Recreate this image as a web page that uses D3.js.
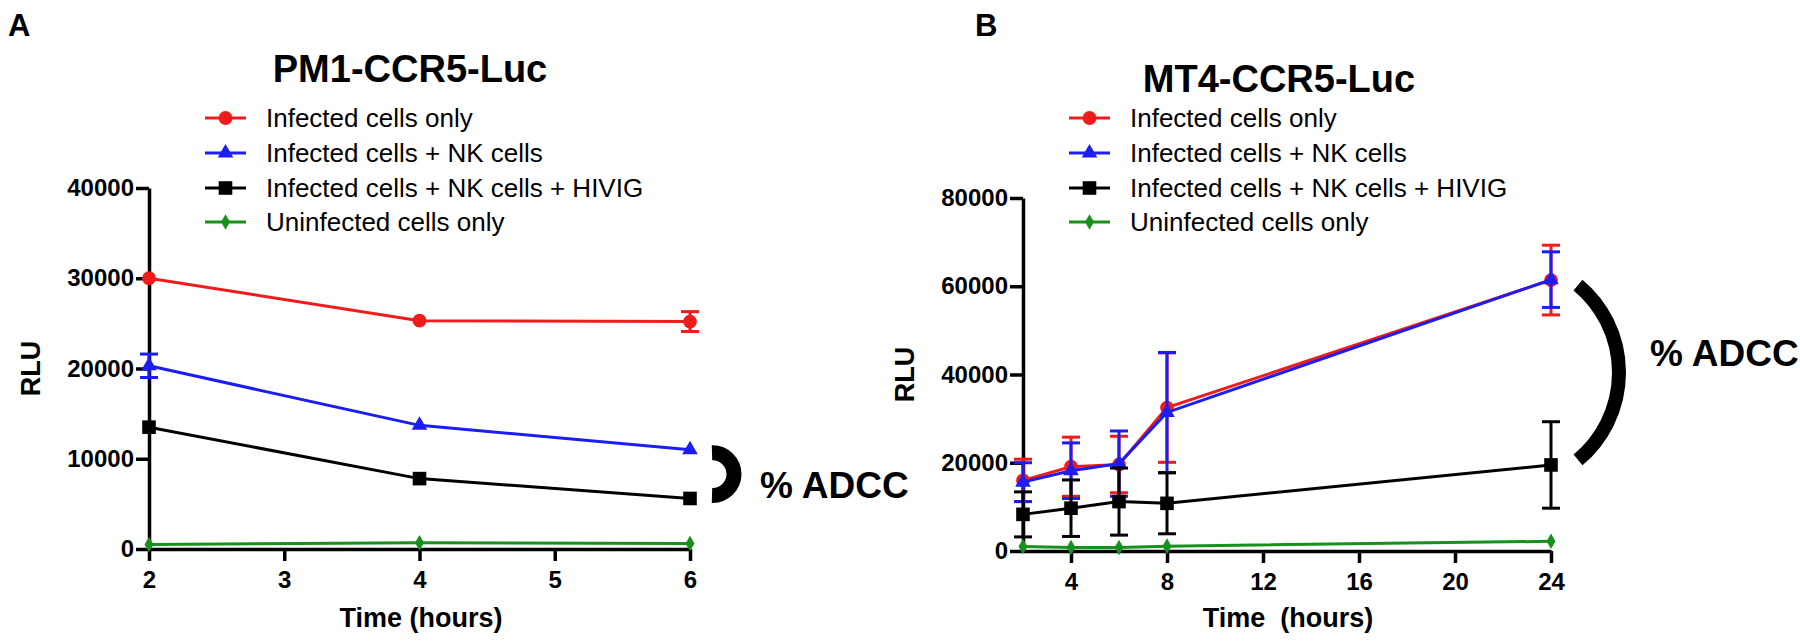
<!DOCTYPE html>
<html>
<head>
<meta charset="utf-8">
<script src="https://cdn.jsdelivr.net/npm/d3@7"></script>
<style>
  body { margin: 0; background: #fff; }
  svg { display: block; }
  text { font-family: "Liberation Sans", Arial, Helvetica, sans-serif; }
</style>
</head>
<body>
<div id="chart"></div>
<script>
// ******* DATA *******
const seriesNames = ["Infected cells only", "Infected cells + NK cells",
    "Infected cells + NK cells + HIVIG", "Uninfected cells only"];
const seriesColors = ["#f01c1c", "#1c1cf5", "#000000", "#18901c"];

// panel A: PM1-CCR5-Luc
const hoursA = [2, 4, 6];
const infectedA = [30000, 25300, 25200];
const infectedErrA = [300, 300, 1100];
const nkA = [20300, 13700, 11000];
const nkErrA = [1300, 300, 300];
const hivigA = [13500, 7800, 5600];
const hivigErrA = [300, 200, 200];
const uninfectedA = [500, 700, 600];
const uninfectedErrA = [100, 100, 100];
const xTicksA = [2, 3, 4, 5, 6];
const yTicksA = [0, 10000, 20000, 30000, 40000];

// panel B: MT4-CCR5-Luc
const hoursB = [2, 4, 6, 8, 24];
const infectedB = [16000, 19100, 19600, 32500, 61400];
const infectedErrB = [4800, 6700, 6400, 12400, 7900];
const nkB = [15600, 18200, 19800, 31400, 61500];
const nkErrB = [4400, 6300, 7400, 13600, 6300];
const hivigB = [8300, 9700, 11200, 10800, 19500];
const hivigErrB = [5100, 6400, 7600, 6900, 9800];
const uninfectedB = [1000, 800, 800, 1100, 2200];
const uninfectedErrB = [200, 200, 200, 200, 300];
const xTicksB = [4, 8, 12, 16, 20, 24];
const yTicksB = [0, 20000, 40000, 60000, 80000];

// ******* SETUP *******
const W = 1800, H = 642;
const svg = d3.select("#chart").append("svg")
    .attr("width", W)
    .attr("height", H);

const shapes = [
    d3.symbol().type(d3.symbolCircle).size(150),
    d3.symbol().type(d3.symbolTriangle).size(105),
    d3.symbol().type(d3.symbolSquare).size(185),
    d3.symbol().type(d3.symbolDiamond).size(70)
];

const panels = [
    {
        letter: "A", letterX: 8, title: "PM1-CCR5-Luc", titleX: 410, titleY: 82,
        hours: hoursA, xTicks: xTicksA, yTicks: yTicksA,
        xDomain: [2, 6], xRange: [149, 690], yDomain: [0, 40000], yRange: [549, 188],
        series: [[infectedA, infectedErrA], [nkA, nkErrA], [hivigA, hivigErrA], [uninfectedA, uninfectedErrA]],
        legendX: 205, legendY: [118, 153, 188, 222],
        xTitle: "Time (hours)", xTitleX: 421, rluX: 31,
        bracket: { from: 1, to: 2, dx: 22, sag: 22, pad: -3, width: 15 }, adccDx: 70, adccDy: 24
    },
    {
        letter: "B", letterX: 975, title: "MT4-CCR5-Luc", titleX: 1279, titleY: 92,
        hours: hoursB, xTicks: xTicksB, yTicks: yTicksB,
        xDomain: [2, 24], xRange: [1023, 1551], yDomain: [0, 80000], yRange: [551, 198],
        series: [[infectedB, infectedErrB], [nkB, nkErrB], [hivigB, hivigErrB], [uninfectedB, uninfectedErrB]],
        legendX: 1069, legendY: [118, 153, 188, 222],
        xTitle: "Time  (hours)", xTitleX: 1288, rluX: 905,
        bracket: { from: 0, to: 2, dx: 27, sag: 41, pad: -5, width: 14 }, adccDx: 99, adccDy: -7
    }
];

panels.forEach(drawPanel);

function drawPanel(p) {
    const x = d3.scaleLinear().domain(p.xDomain).range(p.xRange);
    const y = d3.scaleLinear().domain(p.yDomain).range(p.yRange);
    const g = svg.append("g");

    // panel letter + title
    g.append("text").attr("x", p.letterX).attr("y", 36)
        .attr("font-size", 31).attr("font-weight", "bold").text(p.letter);
    g.append("text").attr("x", p.titleX).attr("y", p.titleY)
        .attr("text-anchor", "middle").attr("font-size", 38).attr("font-weight", "bold")
        .text(p.title);

    // axes
    const xAxis = g.append("g")
        .attr("transform", `translate(0,${y(0)})`)
        .call(d3.axisBottom(x).tickValues(p.xTicks).tickSize(12).tickSizeOuter(0)
            .tickPadding(10).tickFormat(d3.format("d")));
    const yAxis = g.append("g")
        .attr("transform", `translate(${x(p.xDomain[0])},0)`)
        .call(d3.axisLeft(y).tickValues(p.yTicks).tickSize(13).tickSizeOuter(0)
            .tickPadding(2).tickFormat(d3.format("d")));
    [xAxis, yAxis].forEach(a => {
        a.select(".domain").attr("stroke", "#000").attr("stroke-width", 3.5);
        a.selectAll(".tick line").attr("stroke", "#000").attr("stroke-width", 3.5);
        a.selectAll(".tick text").attr("fill", "#000").attr("font-size", 24)
            .attr("font-weight", "bold").attr("font-family", "'Liberation Sans', Arial, sans-serif");
    });

    // axis titles
    g.append("text").attr("x", p.xTitleX).attr("y", 627)
        .attr("text-anchor", "middle").attr("font-size", 27).attr("font-weight", "bold")
        .style("white-space", "pre")
        .text(p.xTitle);
    const rluY = (p.yRange[0] + p.yRange[1]) / 2;
    g.append("text")
        .attr("transform", `translate(${p.rluX + 9},${rluY}) rotate(-90)`)
        .attr("text-anchor", "middle").attr("font-size", 27).attr("font-weight", "bold")
        .text("RLU");

    // series: error bars, lines, markers
    const line = d3.line().x(d => x(d.t)).y(d => y(d.v));
    p.series.forEach(([vals, errs], i) => {
        const pts = p.hours.map((t, j) => ({ t: t, v: vals[j], e: errs[j] }));
        const color = seriesColors[i];
        const s = g.append("g");

        // bars hidden behind the marker are not drawn (as in the original software)
        const visible = pts.filter(d => y(d.v - d.e) - y(d.v) > 7);
        const bars = s.selectAll(".err").data(visible).join("g").attr("class", "err")
            .attr("stroke", color).attr("stroke-width", 3);
        bars.append("line")
            .attr("x1", d => x(d.t)).attr("x2", d => x(d.t))
            .attr("y1", d => y(d.v - d.e)).attr("y2", d => y(d.v + d.e));
        bars.append("line")
            .attr("x1", d => x(d.t) - 9).attr("x2", d => x(d.t) + 9)
            .attr("y1", d => y(d.v + d.e)).attr("y2", d => y(d.v + d.e));
        bars.append("line")
            .attr("x1", d => x(d.t) - 9).attr("x2", d => x(d.t) + 9)
            .attr("y1", d => y(d.v - d.e)).attr("y2", d => y(d.v - d.e));

        s.append("path").datum(pts)
            .attr("fill", "none").attr("stroke", color).attr("stroke-width", 3)
            .attr("d", line);

        s.selectAll(".mark").data(pts).join("path").attr("class", "mark")
            .attr("transform", d => `translate(${x(d.t)},${y(d.v)})`)
            .attr("d", shapes[i]).attr("fill", color);
    });

    // legend
    seriesNames.forEach((name, i) => {
        const ly = p.legendY[i];
        const lg = g.append("g");
        lg.append("line").attr("x1", p.legendX).attr("x2", p.legendX + 41)
            .attr("y1", ly).attr("y2", ly)
            .attr("stroke", seriesColors[i]).attr("stroke-width", 3);
        lg.append("path").attr("transform", `translate(${p.legendX + 20.5},${ly})`)
            .attr("d", shapes[i]).attr("fill", seriesColors[i]);
        lg.append("text").attr("x", p.legendX + 61).attr("y", ly + 9)
            .attr("font-size", 26).text(name);
    });

    // % ADCC bracket: thick circular arc between two series at the last time point
    const b = p.bracket;
    const last = p.hours.length - 1;
    const cx = x(p.hours[last]) + b.dx;
    const yA = y(p.series[b.from][0][last]);
    const yB = y(p.series[b.to][0][last]);
    const cy = (yA + yB) / 2;
    const h = Math.abs(yB - yA) / 2 + b.pad;
    const r = (h * h + b.sag * b.sag) / (2 * b.sag);
    const large = b.sag > h ? 1 : 0;
    g.append("path")
        .attr("d", `M${cx},${cy - h} A${r},${r} 0 ${large} 1 ${cx},${cy + h}`)
        .attr("fill", "none").attr("stroke", "#000").attr("stroke-width", b.width);
    g.append("text").attr("x", x(p.hours[last]) + p.adccDx).attr("y", cy + p.adccDy)
        .attr("font-size", 37).attr("font-weight", "bold").text("% ADCC");
}
</script>
</body>
</html>
